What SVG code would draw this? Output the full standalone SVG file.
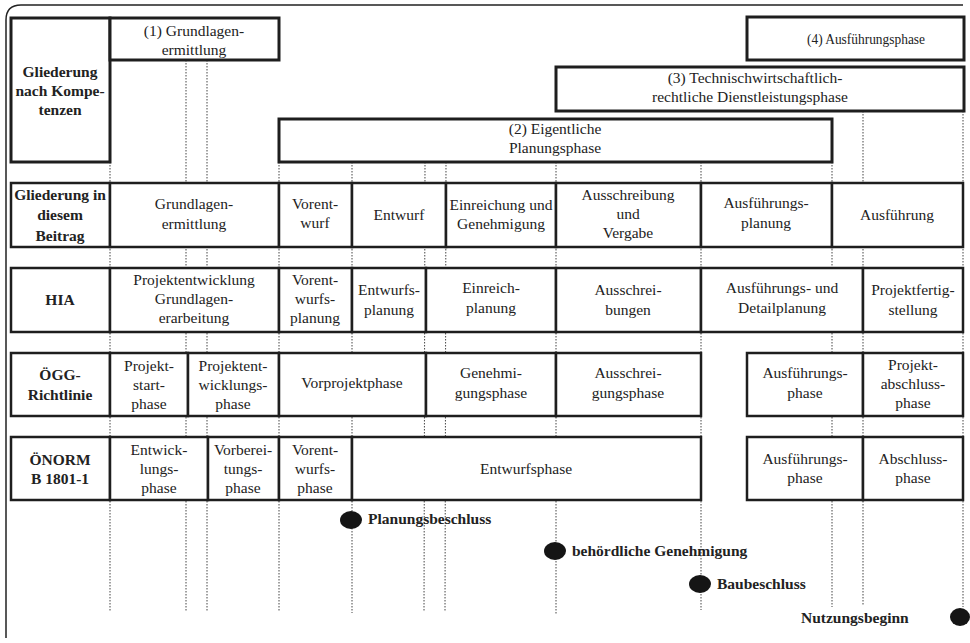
<svg xmlns="http://www.w3.org/2000/svg" width="970" height="643" viewBox="0 0 970 643">
<style>
text{font-family:"Liberation Serif","Times New Roman",serif;font-size:15.5px;fill:#222;text-anchor:middle}
.b{font-weight:bold}
.l{text-anchor:start}
.box{fill:#fff;stroke:#1e1e1e;stroke-width:2.5}
.big{fill:#fff;stroke:#1e1e1e;stroke-width:3}
.guide{stroke:#444;stroke-width:1;stroke-dasharray:1.5 1.5;fill:none}
.dot{fill:#151515}
</style>
<rect width="970" height="643" fill="#fff"/>
<path d="M963,5 H21 Q6,5 6,20 V638" fill="none" stroke="#222" stroke-width="1.5"/>

<g id="connectors">
<line class="guide" x1="110" y1="162" x2="110" y2="612"/>
<line class="guide" x1="186" y1="60" x2="186" y2="612"/>
<line class="guide" x1="207" y1="60" x2="207" y2="612"/>
<line class="guide" x1="279" y1="162" x2="279" y2="612"/>
<line class="guide" x1="352" y1="162" x2="352" y2="613"/>
<line class="guide" x1="425" y1="162" x2="424" y2="612"/>
<line class="guide" x1="446" y1="162" x2="445" y2="612"/>
<line class="guide" x1="556" y1="162" x2="556" y2="615"/>
<line class="guide" x1="701" y1="162" x2="701" y2="610"/>
<line class="guide" x1="832" y1="162" x2="832" y2="607"/>
<line class="guide" x1="863" y1="111" x2="863" y2="606"/>
<line class="guide" x1="963" y1="111" x2="963" y2="607"/>
</g>

<g id="kompetenzen">
<rect class="big" x="11" y="18" width="99" height="144"/>
<text class="b" x="60" y="77">Gliederung</text>
<text class="b" x="60" y="96">nach Kompe-</text>
<text class="b" x="60" y="115">tenzen</text>
</g>
<g id="phase1">
<rect class="big" x="110" y="18" width="169" height="42"/>
<text x="194" y="36">(1) Grundlagen-</text>
<text x="194" y="55">ermittlung</text>
</g>
<g id="phase4">
<rect class="big" x="747" y="17" width="217" height="43"/>
<text x="866" y="44" textLength="118" lengthAdjust="spacingAndGlyphs">(4) Ausführungsphase</text>
</g>
<g id="phase3">
<rect class="big" x="556" y="67" width="408" height="44"/>
<text x="755" y="83">(3) Technischwirtschaftlich-</text>
<text x="750" y="102">rechtliche Dienstleistungsphase</text>
</g>
<g id="phase2">
<rect class="big" x="279" y="119" width="553" height="43"/>
<text x="555" y="134">(2) Eigentliche</text>
<text x="555" y="153">Planungsphase</text>
</g>

<g id="row-beitrag">
<rect class="box" x="11" y="183" width="99" height="64"/>
<text class="b" x="60" y="200">Gliederung in</text>
<text class="b" x="60" y="220">diesem</text>
<text class="b" x="60" y="241">Beitrag</text>
<rect class="box" x="110" y="183" width="169" height="64"/>
<text x="194" y="209">Grundlagen-</text>
<text x="194" y="229">ermittlung</text>
<rect class="box" x="279" y="183" width="73" height="64"/>
<text x="315" y="209">Vorent-</text>
<text x="315" y="228">wurf</text>
<rect class="box" x="352" y="183" width="94" height="64"/>
<text x="399" y="220">Entwurf</text>
<rect class="box" x="446" y="183" width="110" height="64"/>
<text x="501" y="210">Einreichung und</text>
<text x="501" y="229">Genehmigung</text>
<rect class="box" x="556" y="183" width="145" height="64"/>
<text x="628" y="200">Ausschreibung</text>
<text x="628" y="219">und</text>
<text x="628" y="238">Vergabe</text>
<rect class="box" x="701" y="183" width="131" height="64"/>
<text x="766" y="208">Ausführungs-</text>
<text x="766" y="228">planung</text>
<rect class="box" x="832" y="183" width="131" height="64"/>
<text x="897" y="220">Ausführung</text>
</g>

<g id="row-hia">
<rect class="box" x="11" y="268" width="99" height="64"/>
<text class="b" x="60" y="305">HIA</text>
<rect class="box" x="110" y="268" width="169" height="64"/>
<text x="194" y="285">Projektentwicklung</text>
<text x="194" y="304">Grundlagen-</text>
<text x="194" y="323">erarbeitung</text>
<rect class="box" x="279" y="268" width="73" height="64"/>
<text x="315" y="285">Vorent-</text>
<text x="315" y="304">wurfs-</text>
<text x="315" y="323">planung</text>
<rect class="box" x="352" y="268" width="74" height="64"/>
<text x="389" y="295">Entwurfs-</text>
<text x="389" y="315">planung</text>
<rect class="box" x="426" y="268" width="130" height="64"/>
<text x="491" y="293">Einreich-</text>
<text x="491" y="313">planung</text>
<rect class="box" x="556" y="268" width="145" height="64"/>
<text x="628" y="295">Ausschrei-</text>
<text x="628" y="315">bungen</text>
<rect class="box" x="701" y="268" width="162" height="64"/>
<text x="782" y="293">Ausführungs- und</text>
<text x="782" y="313">Detailplanung</text>
<rect class="box" x="863" y="268" width="100" height="64"/>
<text x="913" y="295">Projektfertig-</text>
<text x="913" y="315">stellung</text>
</g>

<g id="row-oegg">
<rect class="box" x="11" y="353" width="99" height="63"/>
<text class="b" x="60" y="380">ÖGG-</text>
<text class="b" x="60" y="400">Richtlinie</text>
<rect class="box" x="110" y="353" width="78" height="63"/>
<text x="149" y="371">Projekt-</text>
<text x="149" y="390">start-</text>
<text x="149" y="409">phase</text>
<rect class="box" x="188" y="353" width="91" height="63"/>
<text x="233" y="371">Projektent-</text>
<text x="233" y="390">wicklungs-</text>
<text x="233" y="409">phase</text>
<rect class="box" x="279" y="353" width="147" height="63"/>
<text x="352" y="388">Vorprojektphase</text>
<rect class="box" x="426" y="353" width="130" height="63"/>
<text x="491" y="378">Genehmi-</text>
<text x="491" y="398">gungsphase</text>
<rect class="box" x="556" y="353" width="145" height="63"/>
<text x="628" y="378">Ausschrei-</text>
<text x="628" y="398">gungsphase</text>
<rect class="box" x="747" y="353" width="116" height="63"/>
<text x="805" y="378">Ausführungs-</text>
<text x="805" y="398">phase</text>
<rect class="box" x="863" y="353" width="100" height="63"/>
<text x="913" y="370">Projekt-</text>
<text x="913" y="389">abschluss-</text>
<text x="913" y="408">phase</text>
</g>

<g id="row-oenorm">
<rect class="box" x="11" y="437" width="99" height="63"/>
<text class="b" x="60" y="465">ÖNORM</text>
<text class="b" x="60" y="484">B 1801-1</text>
<rect class="box" x="110" y="437" width="98" height="63"/>
<text x="159" y="455">Entwick-</text>
<text x="159" y="474">lungs-</text>
<text x="159" y="493">phase</text>
<rect class="box" x="208" y="437" width="71" height="63"/>
<text x="243" y="455">Vorberei-</text>
<text x="243" y="474">tungs-</text>
<text x="243" y="493">phase</text>
<rect class="box" x="279" y="437" width="73" height="63"/>
<text x="315" y="455">Vorent-</text>
<text x="315" y="474">wurfs-</text>
<text x="315" y="493">phase</text>
<rect class="box" x="352" y="437" width="349" height="63"/>
<text x="526" y="474">Entwurfsphase</text>
<rect class="box" x="747" y="437" width="116" height="63"/>
<text x="805" y="464">Ausführungs-</text>
<text x="805" y="483">phase</text>
<rect class="box" x="863" y="437" width="100" height="63"/>
<text x="913" y="464">Abschluss-</text>
<text x="913" y="483">phase</text>
</g>

<g id="m-planungsbeschluss">
<ellipse class="dot" cx="351" cy="520" rx="11" ry="9"/>
<text class="b l" x="368" y="524">Planungsbeschluss</text>
</g>
<g id="m-genehmigung">
<ellipse class="dot" cx="555" cy="551" rx="11" ry="9"/>
<text class="b l" x="572" y="556">behördliche Genehmigung</text>
</g>
<g id="m-baubeschluss">
<ellipse class="dot" cx="700" cy="584" rx="11" ry="9"/>
<text class="b l" x="717" y="589">Baubeschluss</text>
</g>
<g id="m-nutzungsbeginn">
<ellipse class="dot" cx="960" cy="617" rx="10" ry="9"/>
<text class="b l" x="801" y="623">Nutzungsbeginn</text>
</g>
</svg>
